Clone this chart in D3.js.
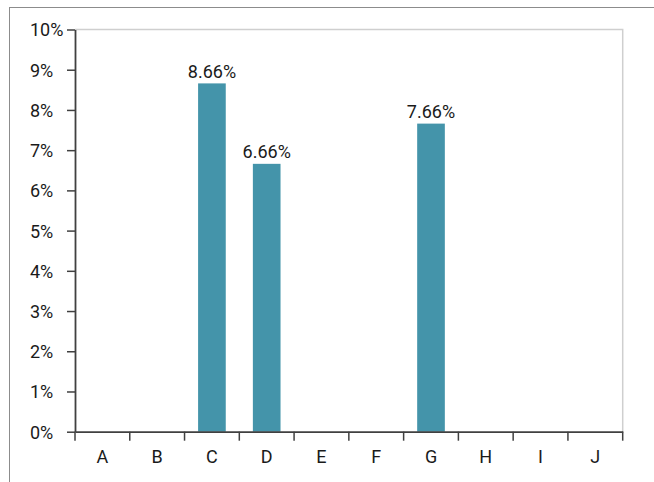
<!DOCTYPE html>
<html><head><meta charset="utf-8">
<script src="https://cdn.jsdelivr.net/npm/d3@7"></script>
<style>html,body{margin:0;padding:0;background:#fff;}svg{display:block;}</style>
</head><body>
<svg id="c" width="654" height="482"></svg>
<script>
const categories = ["A","B","C","D","E","F","G","H","I","J"];
const values = [0, 0, 8.66, 6.66, 0, 0, 7.66, 0, 0, 0];
const labels = ["", "", "8.66%", "6.66%", "", "", "7.66%", "", "", ""];
const yTicks = [0,1,2,3,4,5,6,7,8,9,10];

const svg = d3.select("#c");
const L = 75, R = 622.7, T = 29.5, B = 431.7;
const font = "Roboto, 'Open Sans', sans-serif";
const fs = 18;

// outer frame (clipped at right/bottom)
svg.append("rect").attr("x",9.5).attr("y",7.5).attr("width",700).attr("height",600)
  .attr("fill","none").attr("stroke","#8c8c8c").attr("stroke-width",1);

const x = d3.scaleBand().domain(categories).range([L,R]).paddingInner(0).paddingOuter(0);
const y = d3.scaleLinear().domain([0,10]).range([B,T]);

// plot border top/right
svg.append("path").attr("d",`M${L},${T}H${R}V${B}`).attr("fill","none")
  .attr("stroke","#cfcfcf").attr("stroke-width",1.5);

// bars
const bw = x.bandwidth()*0.505;
svg.selectAll("rect.bar").data(values).join("rect").attr("class","bar")
  .attr("x",(d,i)=>x(categories[i])+x.bandwidth()/2-bw/2)
  .attr("width",bw)
  .attr("y",d=>y(d)).attr("height",d=>B-y(d))
  .attr("fill","#4494aa");

svg.selectAll("text.lbl").data(values).join("text").attr("class","lbl")
  .attr("x",(d,i)=>x(categories[i])+x.bandwidth()/2)
  .attr("y",d=>y(d)-5.5)
  .attr("text-anchor","middle").attr("font-family",font).attr("font-size",fs).attr("fill","#1a1a1a")
  .text((d,i)=>labels[i]);

// y axis
const ya = svg.append("g").attr("transform",`translate(${L},0)`)
  .call(d3.axisLeft(y).tickValues(yTicks).tickFormat(d=>d+"%").tickSize(8).tickPadding(4).tickSizeOuter(0));
ya.select(".domain").attr("stroke","#404040").attr("stroke-width",1.8);
ya.selectAll(".tick line").attr("stroke","#404040").attr("stroke-width",1.5);
ya.selectAll(".tick text").attr("font-family",font).attr("font-size",fs).attr("fill","#1a1a1a")
  .attr("text-anchor","start").attr("x",30-L).attr("dy","0.36em");

// x axis
const xa = svg.append("g").attr("transform",`translate(0,${B})`)
  .call(d3.axisBottom(x).tickSize(0).tickPadding(0).tickSizeOuter(0));
xa.select(".domain").attr("stroke","#404040").attr("stroke-width",1.8);
xa.selectAll(".tick text").attr("font-family",font).attr("font-size",fs).attr("fill","#1a1a1a")
  .attr("y",463.5-B).attr("dy",0);
const bounds = categories.map(c=>x(c)).concat([R]);
xa.selectAll("line.bt").data(bounds).join("line").attr("class","bt")
  .attr("x1",d=>d).attr("x2",d=>d).attr("y1",0).attr("y2",9)
  .attr("stroke","#404040").attr("stroke-width",1.5);
</script>
</body></html>
